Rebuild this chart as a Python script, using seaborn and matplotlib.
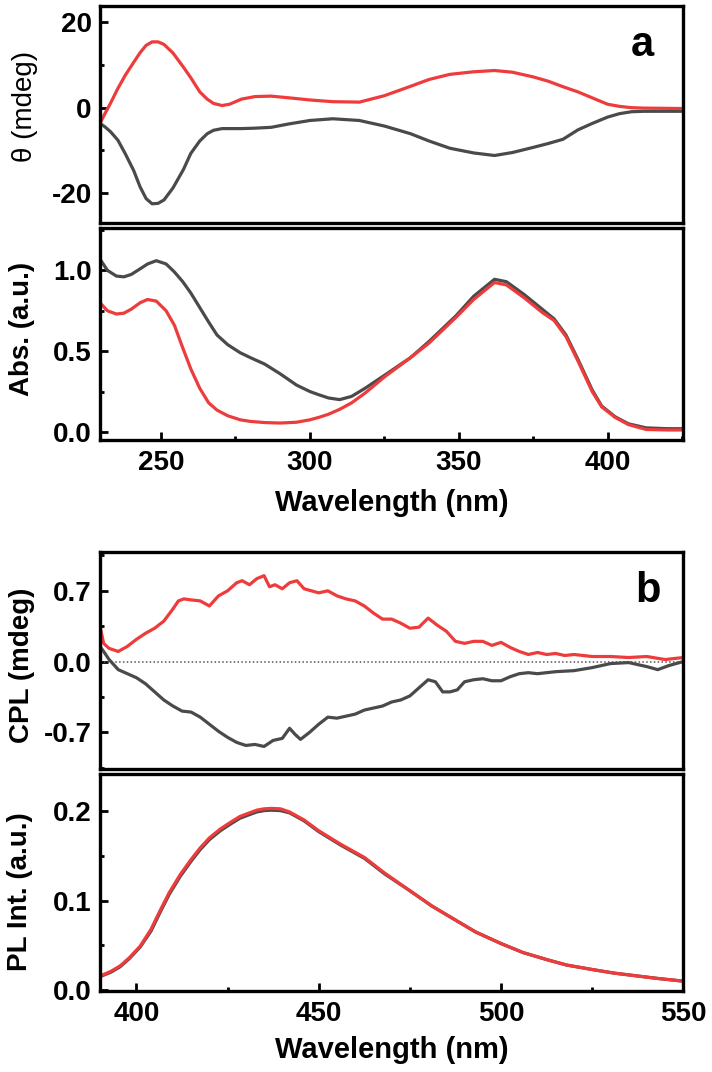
import numpy as np
import pandas as pd
import matplotlib
matplotlib.use("Agg")
import matplotlib.pyplot as plt
import seaborn as sns
from matplotlib.ticker import MultipleLocator, AutoMinorLocator, FormatStrFormatter, FuncFormatter

# ---------------- data ----------------
# Panel a, CD spectra
cd_wl = [229.5, 231, 233, 235.5, 238, 240.8, 243, 245, 247, 249, 251, 254, 257.5, 260, 263,
         265.5, 267.6, 270.5, 273, 277, 281.6, 287, 293, 300, 307.7, 316.6, 325, 333.8, 340,
         347, 355, 362, 368, 375, 380, 385, 390, 394.8, 400, 404, 408, 412, 425]
cd_red = [-3.7, -1.6, 1.0, 4.5, 7.6, 10.6, 12.9, 14.6, 15.4, 15.4, 14.8, 12.8, 9.5, 7.0, 3.7,
          2.0, 1.0, 0.5, 0.8, 2.0, 2.6, 2.7, 2.3, 1.8, 1.4, 1.3, 2.8, 5.0, 6.6,
          7.8, 8.4, 8.7, 8.3, 7.2, 6.2, 4.9, 3.7, 2.3, 0.8, 0.3, 0.0, -0.1, -0.2]
cd_black = [-3.7, -4.4, -5.6, -7.6, -10.8, -14.7, -18.6, -21.3, -22.5, -22.4, -21.6, -18.8, -14.5, -10.7, -7.8,
            -6.1, -5.3, -4.9, -4.9, -4.9, -4.8, -4.6, -3.8, -3.0, -2.6, -3.0, -4.3, -6.1, -7.8,
            -9.5, -10.6, -11.2, -10.5, -9.3, -8.4, -7.4, -5.2, -3.7, -2.2, -1.4, -0.95, -0.85, -0.85]

# Panel a, absorption spectra
abs_wl = [229.5, 232, 235, 237.5, 240, 243, 245.5, 248.4, 251.7, 254.5, 257.3, 260, 263, 266,
          268.8, 272.4, 276.6, 280, 284.8, 290, 295.5, 300, 303, 306.3, 310, 314, 318.5, 325,
          333.8, 340, 349.1, 355, 362, 366, 372, 378, 382, 386, 390, 394.8, 398, 402.5, 407,
          413, 420, 425]
abs_black = [1.07, 1.00, 0.965, 0.96, 0.975, 1.01, 1.04, 1.06, 1.04, 0.99, 0.93, 0.86, 0.77, 0.68,
             0.60, 0.54, 0.49, 0.46, 0.42, 0.36, 0.29, 0.25, 0.23, 0.21, 0.20, 0.22, 0.27, 0.35,
             0.46, 0.56, 0.72, 0.84, 0.945, 0.93, 0.85, 0.76, 0.70, 0.60, 0.45, 0.26, 0.16, 0.094, 0.05,
             0.025, 0.02, 0.02]
abs_red = [0.80, 0.75, 0.73, 0.735, 0.76, 0.80, 0.82, 0.81, 0.75, 0.66, 0.52, 0.39, 0.27, 0.18,
           0.135, 0.10, 0.075, 0.065, 0.058, 0.055, 0.06, 0.075, 0.09, 0.11, 0.14, 0.18, 0.24, 0.34,
           0.46, 0.55, 0.71, 0.82, 0.925, 0.91, 0.83, 0.74, 0.69, 0.59, 0.44, 0.25, 0.155, 0.09, 0.045,
           0.015, 0.012, 0.012]

# Panel b, CPL spectra
cpl_wl_r = [390, 391, 392.5, 395, 397.5, 400, 402.5, 405, 407.5, 410, 411.5, 413, 415, 417.5, 420,
            422.5, 425, 427.5, 429, 431, 433, 435, 436.5, 438, 440, 442, 444, 446, 448, 450, 452.5,
            455, 457.5, 460, 462.5, 465, 467.5, 470, 472.5, 475, 477.5, 480, 482.5, 485, 487.5, 490,
            492.5, 495, 497.5, 500, 502.5, 505, 507.5, 510, 512.5, 515, 517.5, 520, 525, 530, 535,
            540, 545, 550]
cpl_red = [0.35, 0.18, 0.13, 0.10, 0.15, 0.22, 0.28, 0.33, 0.40, 0.52, 0.60, 0.62, 0.61, 0.60, 0.55,
           0.65, 0.70, 0.78, 0.80, 0.76, 0.82, 0.85, 0.74, 0.76, 0.72, 0.78, 0.80, 0.72, 0.70, 0.68, 0.70,
           0.65, 0.62, 0.60, 0.55, 0.48, 0.42, 0.42, 0.38, 0.33, 0.34, 0.43, 0.36, 0.30, 0.20, 0.18,
           0.20, 0.20, 0.16, 0.19, 0.14, 0.10, 0.07, 0.09, 0.07, 0.08, 0.06, 0.07, 0.05, 0.05, 0.04,
           0.05, 0.02, 0.04]
cpl_wl_k = [390, 391, 392.5, 395, 397.5, 400, 402.5, 405, 407.5, 410, 412.5, 415, 417.5, 420, 422.5,
            425, 427.5, 430, 432.5, 435, 437.5, 440, 442, 443.5, 445, 447.5, 450, 452.5, 455, 457.5,
            460, 462.5, 465, 467.5, 470, 472.5, 475, 477.5, 480, 482, 484, 486, 488, 490, 492.5, 495,
            497.5, 500, 502.5, 505, 507.5, 510, 515, 520, 525, 530, 535, 540, 543, 546, 550]
cpl_black = [0.15, 0.10, 0.02, -0.08, -0.12, -0.16, -0.22, -0.30, -0.38, -0.44, -0.49, -0.50, -0.55, -0.62, -0.69,
             -0.75, -0.80, -0.83, -0.82, -0.84, -0.78, -0.76, -0.66, -0.72, -0.77, -0.70, -0.62, -0.55, -0.56, -0.54,
             -0.52, -0.48, -0.46, -0.44, -0.40, -0.38, -0.34, -0.26, -0.18, -0.20, -0.30, -0.30, -0.28, -0.20, -0.18, -0.17,
             -0.19, -0.19, -0.15, -0.12, -0.11, -0.12, -0.10, -0.09, -0.06, -0.02, -0.01, -0.05, -0.08, -0.04, 0.00]

# Panel b, PL spectra
pl_wl = [390, 393, 395.5, 398, 401, 404, 406.5, 409, 412, 415, 417.5, 420, 423, 426, 428.4, 431, 433,
         435, 437, 439.5, 442, 446, 450, 456, 462.6, 468, 475, 481, 487.6, 493, 500, 506, 512.6, 518,
         525, 531, 537.6, 543, 550]
pl_red = [0.0157, 0.021, 0.027, 0.036, 0.049, 0.068, 0.089, 0.109, 0.129, 0.146, 0.159, 0.170, 0.180,
          0.188, 0.194, 0.198, 0.201, 0.2025, 0.203, 0.2025, 0.199, 0.190, 0.178,
          0.163, 0.148, 0.131, 0.111, 0.094, 0.078, 0.065, 0.052, 0.042, 0.034, 0.028, 0.023, 0.019,
          0.0157, 0.013, 0.010]
pl_black = [0.015, 0.020, 0.026, 0.035, 0.048, 0.066, 0.087, 0.107, 0.127, 0.144, 0.157, 0.168, 0.178,
            0.186, 0.192, 0.196, 0.199, 0.2005, 0.201, 0.2005, 0.198, 0.189, 0.177,
            0.162, 0.147, 0.130, 0.111, 0.094, 0.078, 0.065, 0.052, 0.042, 0.034, 0.028, 0.023, 0.019,
            0.0157, 0.013, 0.010]

RED = "#EE3B3B"
GRAY = "#4A4A4A"

# ---------------- style ----------------
sns.set_theme(style="ticks")
plt.rcParams["font.family"] = ["Liberation Sans", "DejaVu Sans"]
plt.rcParams.update({
    "axes.linewidth": 2.4,
    "axes.edgecolor": "black",
    "xtick.color": "black",
    "ytick.color": "black",
    "text.color": "black",
    "axes.labelcolor": "black",
})

fig = plt.figure(figsize=(7.12, 10.72), dpi=100)

L, W = 100 / 712, 583.3 / 712
def axes_at(top_px, bot_px):
    return fig.add_axes([L, 1 - bot_px / 1072, W, (bot_px - top_px) / 1072])

ax1 = axes_at(6, 223)
ax2 = axes_at(228, 440)
ax3 = axes_at(551.5, 769)
ax4 = axes_at(774, 991)

LW = 2.3

def draw(ax, x, y, color):
    df = pd.DataFrame({"x": x, "y": y})
    sns.lineplot(data=df, x="x", y="y", color=color, lw=LW, ax=ax,
                 estimator=None, sort=False, legend=False)

draw(ax1, cd_wl, cd_black, GRAY)
draw(ax1, cd_wl, cd_red, RED)
draw(ax2, abs_wl, abs_black, GRAY)
draw(ax2, abs_wl, abs_red, RED)
ax3.axhline(0, color="#555555", lw=1.1, ls=(0, (1, 1.5)), zorder=1)
draw(ax3, cpl_wl_k, cpl_black, GRAY)
draw(ax3, cpl_wl_r, cpl_red, RED)
draw(ax4, pl_wl, pl_black, GRAY)
draw(ax4, pl_wl, pl_red, RED)

# limits
for ax in (ax1, ax2):
    ax.set_xlim(229.5, 425.4)
for ax in (ax3, ax4):
    ax.set_xlim(390, 550)
ax1.set_ylim(-27, 23.8)
ax2.set_ylim(-0.05, 1.2625)
ax3.set_ylim(-1.063, 1.089)
ax4.set_ylim(-0.001, 0.2414)

# ticks
ax1.yaxis.set_major_locator(MultipleLocator(20))
ax2.yaxis.set_major_locator(MultipleLocator(0.5))
ax3.set_yticks([-0.7, 0.0, 0.7])
ax3.yaxis.set_minor_locator(MultipleLocator(0.35))
ax4.yaxis.set_major_locator(MultipleLocator(0.1))
for ax in (ax1, ax2, ax3, ax4):
    ax.xaxis.set_major_locator(MultipleLocator(50))
for ax in (ax1, ax2, ax4):
    ax.yaxis.set_minor_locator(AutoMinorLocator(2))
for ax in (ax1, ax2, ax3, ax4):
    ax.xaxis.set_minor_locator(AutoMinorLocator(2))
    ax.tick_params(which="major", direction="in", length=6, width=2.0, labelsize=20, pad=7.5,
                   top=False, right=False)
    ax.tick_params(which="minor", direction="in", length=3, width=2.0, top=False, right=False)
    ax.tick_params(axis="y", which="major", pad=6)
    ax.set_xlabel("")
    ax.set_ylabel("")

ax1.yaxis.set_major_formatter(FuncFormatter(lambda v, p: f"{v:.0f}"))
ax2.yaxis.set_major_formatter(FormatStrFormatter("%.1f"))
ax3.yaxis.set_major_formatter(FormatStrFormatter("%.1f"))
ax4.yaxis.set_major_formatter(FormatStrFormatter("%.1f"))
for ax in (ax1, ax3):
    ax.tick_params(axis="x", which="both", bottom=False, labelbottom=False)
for ax in (ax1, ax2, ax3, ax4):
    for lab in ax.get_yticklabels() + ax.get_xticklabels():
        lab.set_fontweight("bold")

# axis labels
ax1.set_ylabel("θ (mdeg)", fontsize=20, fontweight="normal")
ax1.yaxis.set_label_coords(-0.106, 0.535)
ax2.set_ylabel("Abs. (a.u.)", fontsize=20, fontweight="bold")
ax2.yaxis.set_label_coords(-0.111, 0.524)
ax3.set_ylabel("CPL (mdeg)", fontsize=20, fontweight="bold")
ax3.yaxis.set_label_coords(-0.111, 0.478)
ax4.set_ylabel("PL Int. (a.u.)", fontsize=20, fontweight="bold")
ax4.yaxis.set_label_coords(-0.115, 0.456)
ax2.set_xlabel("Wavelength (nm)", fontsize=21, fontweight="bold")
ax2.xaxis.set_label_coords(0.5, -0.229)
ax4.set_xlabel("Wavelength (nm)", fontsize=21, fontweight="bold")
ax4.xaxis.set_label_coords(0.5, -0.209)

ax1.text(0.93, 0.82, "a", transform=ax1.transAxes, fontsize=30, fontweight="bold",
         ha="center", va="center")
ax3.text(0.939, 0.82, "b", transform=ax3.transAxes, fontsize=30, fontweight="bold",
         ha="center", va="center")

fig.savefig("out.png", dpi=100)
